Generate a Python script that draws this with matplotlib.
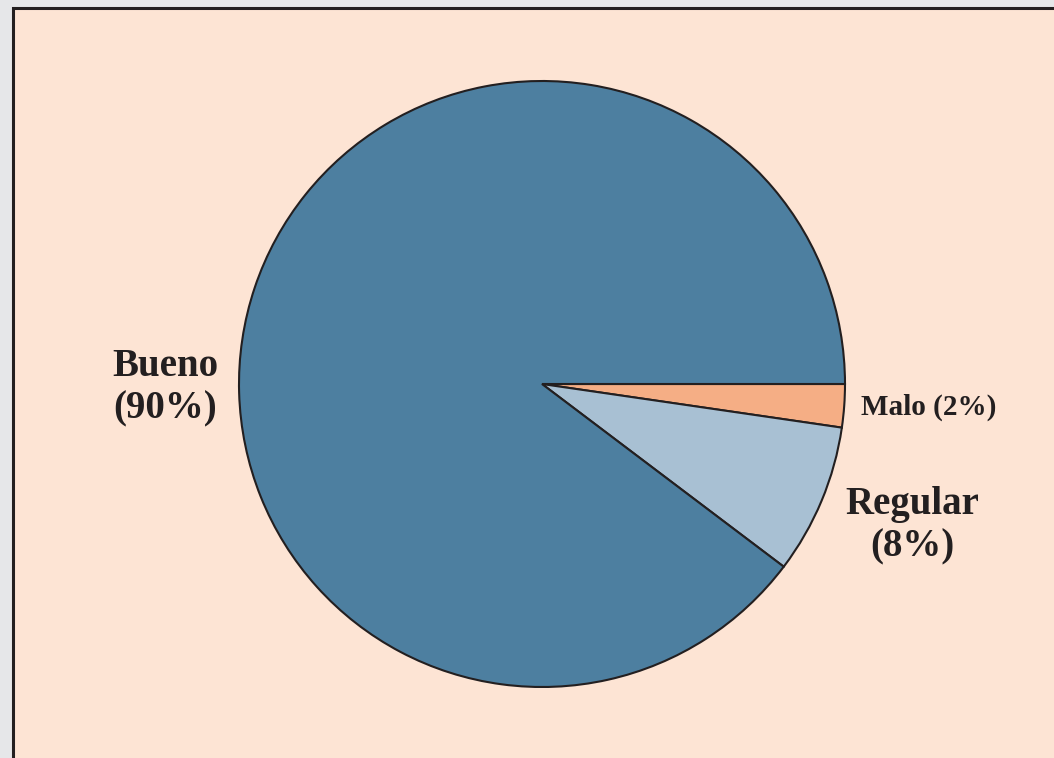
import matplotlib
matplotlib.use("Agg")
import matplotlib.pyplot as plt
from matplotlib.patches import Rectangle

# Data
categories = ["Malo", "Regular", "Bueno"]
values = [2.3, 8.0, 89.7]
label_texts = ["Malo (2%)", "Regular\n(8%)", "Bueno\n(90%)"]
colors = ["#f5ae85", "#a8c0d3", "#4d7fa0"]

W, H = 1054, 758
fig = plt.figure(figsize=(W / 100, H / 100), dpi=100, facecolor="#e6e7e9")

# Panel
panel = Rectangle((13 / W, -0.05), 1.1, (H - 8) / H + 0.05, transform=fig.transFigure,
                  facecolor="#fde4d4", edgecolor="#231f20", linewidth=2.2, zorder=-10)
fig.patches.append(panel)

cx, cy, r = 542, 384, 303
ax = fig.add_axes([(cx - r) / W, (H - cy - r) / H, 2 * r / W, 2 * r / H])
ax.set_zorder(1)
ax.axis("off")

ax.pie(values, colors=colors, startangle=0, counterclock=False, radius=1,
       wedgeprops=dict(edgecolor="#231f20", linewidth=1.5))
ax.set_xlim(-1, 1)
ax.set_ylim(-1, 1)

font = dict(family="Liberation Serif", weight="bold", color="#231f20")
ax.text(1.053, -0.076, label_texts[0], ha="left", va="center", fontsize=21,
        clip_on=False, **font)
ax.text(1.221, -0.469, label_texts[1], ha="center", va="center", fontsize=28,
        multialignment="center", linespacing=1.2, clip_on=False, **font)
ax.text(-1.244, -0.013, label_texts[2], ha="center", va="center", fontsize=28,
        multialignment="center", linespacing=1.2, clip_on=False, **font)

fig.savefig("out.png", dpi=100, facecolor=fig.get_facecolor())
